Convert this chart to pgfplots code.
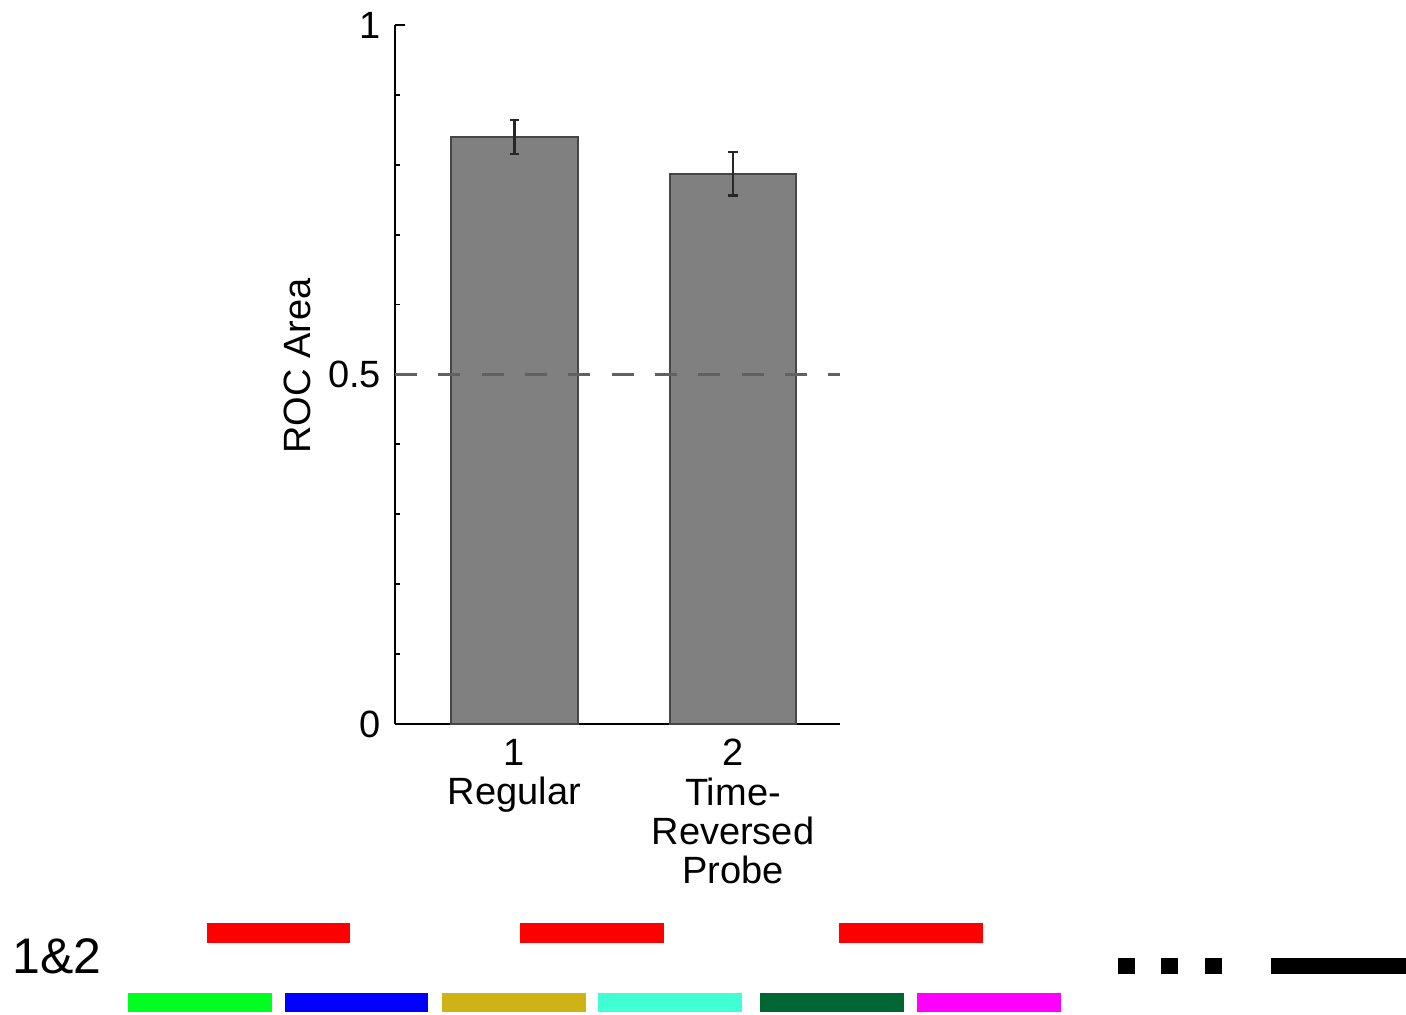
\documentclass[border=0pt]{standalone}
\usepackage{fontspec}
\setmainfont{Liberation Sans}
\usepackage{pgfplots}
\pgfplotsset{compat=1.18}
\definecolor{barfill}{RGB}{128,128,128}
\definecolor{baredge}{RGB}{70,70,70}
\definecolor{sgreen}{RGB}{0,255,32}
\definecolor{sblue}{RGB}{0,0,255}
\definecolor{solive}{RGB}{207,179,22}
\definecolor{saqua}{RGB}{64,255,212}
\definecolor{sdkgreen}{RGB}{0,102,51}
\definecolor{smag}{RGB}{255,0,255}
\definecolor{sred}{RGB}{255,0,0}
\begin{document}
\begin{tikzpicture}
% background axis in pixel units for the stimulus strips
\begin{axis}[name=bg, scale only axis, width=351.5pt, height=253.75pt,
  xmin=0, xmax=1406, ymin=0, ymax=1015, y dir=reverse, hide axis, clip=false]
% red row
\addplot[sred, line width=5pt] coordinates {(207,933) (350,933)};
\addplot[sred, line width=5pt] coordinates {(520,933) (664,933)};
\addplot[sred, line width=5pt] coordinates {(839,933) (983,933)};
% coloured row
\addplot[sgreen, line width=4.75pt] coordinates {(128,1003) (272,1003)};
\addplot[sblue, line width=4.75pt] coordinates {(285,1003) (428,1003)};
\addplot[solive, line width=4.75pt] coordinates {(442,1003) (586,1003)};
\addplot[saqua, line width=4.75pt] coordinates {(598,1003) (742,1003)};
\addplot[sdkgreen, line width=4.75pt] coordinates {(760,1003) (904,1003)};
\addplot[smag, line width=4.75pt] coordinates {(917,1003) (1061,1003)};
% black dots and line
\addplot[black, line width=4pt] coordinates {(1118,966) (1135,966)};
\addplot[black, line width=4pt] coordinates {(1161,966) (1178,966)};
\addplot[black, line width=4pt] coordinates {(1205,966) (1222,966)};
\addplot[black, line width=4pt] coordinates {(1271,966) (1406,966)};
\node[font=\fontsize{12.5}{14}\selectfont] at (axis cs:57,956) {1\&2};
\coordinate (O) at (axis cs:395,724);
\coordinate (BL) at (rel axis cs:0,0);
\coordinate (TR) at (rel axis cs:1,1);
\end{axis}
% main bar chart
\begin{axis}[at={(O)}, anchor=south west, scale only axis,
  width=111.25pt, height=174.75pt,
  xmin=0.453, xmax=2.49, ymin=0, ymax=1,
  axis lines*=left, axis line style={black, line width=0.7pt},
  ytick={0,0.5,1}, yticklabels={0,0.5,1},
  minor ytick={0.1,0.2,0.3,0.4,0.6,0.7,0.8,0.9},
  tick align=inside, major tick length=2.5pt, minor tick length=1.2pt,
  ytick style={black, line width=0.45pt},
  xtick={1,2}, xticklabels={{1\\Regular},{2\\Time-\\Reversed\\Probe}},
  xtick style={draw=none},
  x tick label style={align=center, yshift=-0.3pt, font=\fontsize{9.5}{9.8}\selectfont},
  y tick label style={font=\fontsize{9.5}{11}\selectfont},
  /pgf/number format/assume math mode=true,
  ylabel={ROC Area},
  ylabel style={at={(axis description cs:-0.187,0.512)}, anchor=south, inner sep=0pt, font=\fontsize{9.5}{11}\selectfont},
  clip=false]
\addplot[ybar, bar width=0.58, fill=barfill, draw=baredge, line width=0.5pt,
  error bars/.cd, y dir=both, y explicit,
  error bar style={line width=0.55pt, black!85},
  error mark options={rotate=90, line width=0.55pt, black!85, mark size=1.2pt}]
  coordinates {(1,0.840) +- (0,0.024) (2,0.787) +- (0,0.031)};
\addplot[sharp plot, black!62, line width=0.6pt, dash pattern=on 5.5pt off 5.33pt]
  coordinates {(0.453,0.5) (2.49,0.5)};
\end{axis}
\pgfresetboundingbox
\path[use as bounding box] (BL) rectangle (TR);
\end{tikzpicture}
\end{document}
